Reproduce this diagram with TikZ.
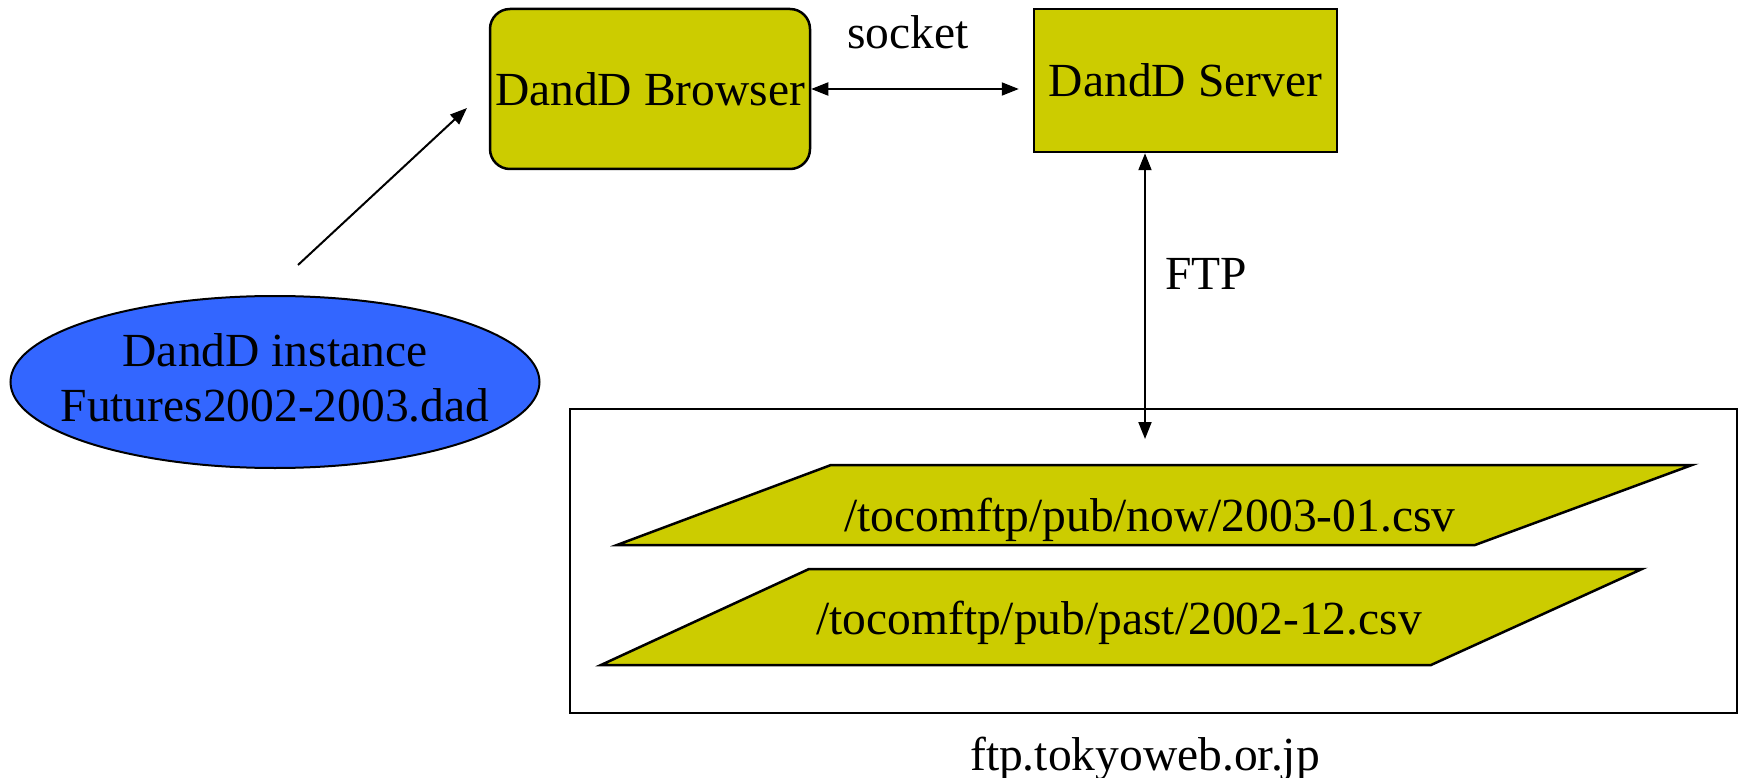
\documentclass[tikz,border=0pt]{standalone}
\usepackage{fontspec}
\setmainfont{Liberation Serif}
\usetikzlibrary{shapes.geometric,arrows.meta}
\definecolor{boxfill}{HTML}{CCCC00}
\definecolor{instblue}{HTML}{3366FF}
\tikzset{conntip/.tip={Triangle[length=17pt,width=13pt]}}
\begin{document}
\begin{tikzpicture}[x=1pt,y=-1pt,
  every node/.style={font=\fontsize{47.5pt}{55pt}\selectfont},
  procbox/.style={draw,line width=2.5pt,fill=boxfill,inner sep=0pt},
  filebox/.style={draw,line width=2.5pt,fill=boxfill},
  label/.style={anchor=base,inner sep=0pt},
  link/.style={line width=2pt},
]
\useasboundingbox (0,0) rectangle (1743,778);

% processes
\node[procbox,rounded corners=20pt,minimum width=320pt,minimum height=160pt]
  (browser) at (650,89) {DandD Browser};
\node[procbox,minimum width=303pt,minimum height=143pt]
  (server) at (1185.5,80.5) {DandD Server};

% instance file
\node[ellipse,draw,line width=2pt,fill=instblue,inner sep=0pt,
  minimum width=529pt,minimum height=172pt]
  (instance) at (275,382) {};
\node[align=center,inner sep=0pt] (instlbl) at ([yshift=4pt]instance.center)
  {DandD instance\\Futures2002-2003.dad};

% ftp site
\node[draw,line width=2pt,minimum width=1167pt,minimum height=304pt,inner sep=0pt]
  (site) at (1153.5,561) {};
\draw[filebox] (617,545) -- (831,465) -- (1692,465) -- (1475,545) -- cycle;
\draw[filebox] (601,665) -- (809,569) -- (1642,569) -- (1431,665) -- cycle;
\node[label] (nowfile) at (1150,531) {/tocomftp/pub/now/2003-01.csv};
\node[label] (pastfile) at (1119,634) {/tocomftp/pub/past/2002-12.csv};
\node[label] (host) at (1145,770) {ftp.tokyoweb.or.jp};

% connectors
\coordinate (instout) at (298,265);
\coordinate (browserin) at (467,108);
\coordinate (ftpend) at (1145,439);
\draw[link,-conntip] (instout) -- (browserin);
\draw[link,conntip-conntip,shorten >=14pt] (browser.east) -- (browser.east -| server.west);
\draw[link,conntip-conntip] (server.south -| ftpend) -- (ftpend);

\node[label] (socketlbl) at (908,49) {socket};
\node[label] (ftplbl) at (1206,289) {FTP};
\end{tikzpicture}
\end{document}
